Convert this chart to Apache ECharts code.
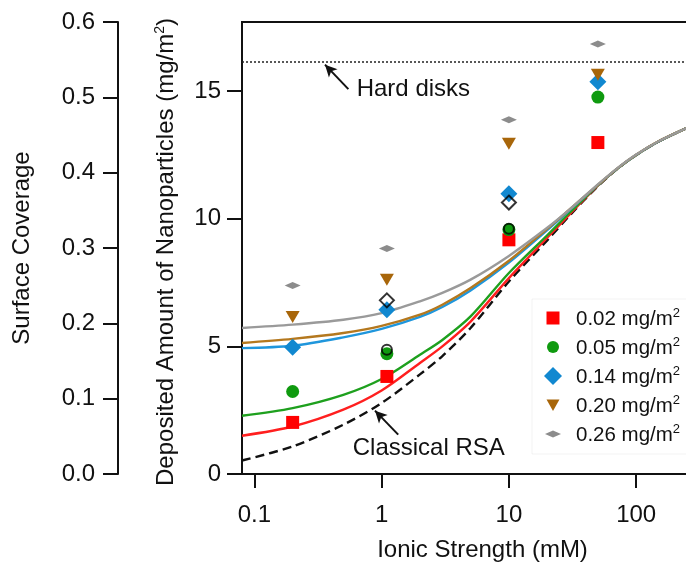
<!DOCTYPE html>
<html>
<head>
<meta charset="utf-8">
<script src="https://cdn.jsdelivr.net/npm/echarts@6/dist/echarts.min.js"></script>
<style>
html, body { margin: 0; padding: 0; background: #fff; }
#chart { width: 686px; height: 562px; }
</style>
</head>
<body>
<div id="chart"></div>
<script>
// measured points, ionic strength in mM
var ionic = [0.2, 1.1, 10, 50];
var dep002 = [2.02, 3.82, 9.17, 12.98];
var dep005 = [3.23, 4.71, 9.57, 14.76];
var dep014 = [4.96, 6.43, 10.97, 15.36];
var dep020 = [6.15, 7.61, 12.93, 15.63];
var dep026 = [7.38, 8.83, 13.87, 16.84];

// open black markers (no legend entry)
var openIonic = [1.1, 10];
var openDiamond = [6.80, 10.63];
var openCircle = [4.87, 9.60];

// model curves
var curveX = [0.08, 0.2, 0.5, 1, 2, 3, 5, 10, 20, 30, 50, 70, 100, 150, 250];
var fitRSA = [0.53, 1.08, 1.93, 2.78, 3.90, 4.62, 5.72, 7.54, 9.15, 10.12, 11.27, 11.92, 12.49, 13.02, 13.55];
var fit002 = [1.50, 1.86, 2.52, 3.27, 4.35, 5.00, 5.97, 7.67, 9.25, 10.17, 11.29, 11.93, 12.49, 13.02, 13.55];
var fit005 = [2.28, 2.58, 3.10, 3.72, 4.67, 5.25, 6.17, 7.87, 9.35, 10.23, 11.30, 11.93, 12.49, 13.02, 13.55];
var fit014 = [4.93, 5.02, 5.35, 5.68, 6.15, 6.54, 7.19, 8.28, 9.55, 10.33, 11.31, 11.93, 12.49, 13.02, 13.55];
var fit020 = [5.13, 5.29, 5.52, 5.80, 6.24, 6.63, 7.28, 8.35, 9.60, 10.36, 11.32, 11.94, 12.50, 13.03, 13.55];
var fit026 = [5.72, 5.85, 6.04, 6.30, 6.76, 7.09, 7.61, 8.54, 9.64, 10.36, 11.34, 11.95, 12.51, 13.03, 13.55];

var hardDisks = 16.15;
var legendNames = ['0.02', '0.05', '0.14', '0.20', '0.26'];
var xTicks = [0.1, 1, 10, 100];
var yTicks = [0, 5, 10, 15];

// annotation anchors (data units)
var hdArrow = [[0.548, 15.07], [0.359, 16.03]];
var hdText = [0.637, 15.05];
var rsaArrow = [[1.35, 1.54], [0.887, 2.48]];
var rsaText = [0.593, 1.02];

function pts(xs, ys) {
    return xs.map(function (x, i) { return [x, ys[i]]; });
}

var FONT = 'Liberation Sans, Arial, sans-serif';
var chart = echarts.init(document.getElementById('chart'));

function curve(name, ys, color, dashed) {
    return {
        name: name,
        type: 'line',
        data: pts(curveX, ys),
        smooth: 0.3,
        showSymbol: false,
        symbol: 'none',
        z: 2,
        lineStyle: { color: color, width: 2.4, type: dashed ? [9, 5] : 'solid' }
    };
}

function dots(name, ys, color, symbol, size) {
    return {
        name: name,
        type: 'scatter',
        data: pts(ionic, ys),
        symbol: symbol,
        symbolSize: size,
        z: 4,
        itemStyle: { color: color, opacity: 1 }
    };
}

var icons = {
    sq: 'path://M0,0M18,18M2.5,2.5h13v13h-13z',
    ci: 'path://M0,0M18,18M3,9a6,6 0 1,0 12,0a6,6 0 1,0 -12,0z',
    di: 'path://M0,0M18,18M9,0L18,9L9,18L0,9Z',
    tr: 'path://M0,0M18,18M2.5,3.5h13L9,15z',
    fl: 'path://M0,0M18,18M1,9L9,5.5L17,9L9,12.5Z'
};

var rsaSeries = curve('Classical RSA', fitRSA, '#111', true);
rsaSeries.markLine = {
    silent: true,
    symbol: ['none', 'arrow'],
    symbolSize: [9, 12],
    label: { show: false },
    lineStyle: { color: '#111', width: 2, type: 'solid' },
    data: [
        [{ coord: hdArrow[0] }, { coord: hdArrow[1] }],
        [{ coord: rsaArrow[0] }, { coord: rsaArrow[1] }]
    ]
};
rsaSeries.markPoint = {
    silent: true,
    symbol: 'circle',
    symbolSize: 0,
    label: { show: true, position: 'inside', align: 'left', verticalAlign: 'middle', fontSize: 24, fontFamily: FONT, color: '#111' },
    data: [
        { coord: hdText, value: 'Hard disks', label: { formatter: 'Hard disks' } },
        { coord: rsaText, value: 'Classical RSA', label: { formatter: 'Classical RSA' } }
    ]
};

var greySeries = curve('fit 0.26', fit026, '#9a9a9a');
greySeries.markLine = {
    silent: true,
    symbol: 'none',
    label: { show: false },
    lineStyle: { color: '#222', width: 1.6, type: [2, 2] },
    data: [{ yAxis: hardDisks }]
};

var option = {
    animation: false,
    backgroundColor: '#fff',
    textStyle: { fontFamily: FONT },
    grid: {
        left: 242, top: 22, right: -3, bottom: 88,
        show: true, borderColor: '#111', borderWidth: 2,
        outerBoundsMode: 'none'
    },
    legend: {
        orient: 'vertical',
        left: 532, top: 299,
        padding: [8, 10, 8, 12],
        backgroundColor: '#fff',
        borderColor: 'rgba(0,0,0,0.05)', borderWidth: 1,
        itemWidth: 18, itemHeight: 18, itemGap: 6,
        selectedMode: false,
        data: [
            { name: legendNames[0], icon: icons.sq },
            { name: legendNames[1], icon: icons.ci },
            { name: legendNames[2], icon: icons.di },
            { name: legendNames[3], icon: icons.tr },
            { name: legendNames[4], icon: icons.fl }
        ],
        formatter: function (n) { return '{a|' + n + ' mg/m}{s|2}'; },
        textStyle: {
            fontFamily: FONT, color: '#111',
            rich: {
                a: { fontSize: 20.5, lineHeight: 24, padding: [0, 0, 0, 9], verticalAlign: 'bottom', fontFamily: FONT, color: '#111' },
                s: { fontSize: 13, lineHeight: 24, padding: [0, 0, 10, 0], verticalAlign: 'bottom', fontFamily: FONT, color: '#111' }
            }
        }
    },
    xAxis: {
        type: 'log', logBase: 10, min: 0.08, max: 260,
        name: 'Ionic Strength (mM)',
        nameLocation: 'middle', nameGap: 64,
        nameTextStyle: { fontSize: 24, color: '#111', fontFamily: FONT, padding: [0, 0, 0, 34] },
        axisLine: { lineStyle: { color: '#111', width: 2 } },
        axisTick: { show: true, length: 14, customValues: xTicks, lineStyle: { color: '#111', width: 2 } },
        axisLabel: { customValues: xTicks, fontSize: 24, color: '#111', fontFamily: FONT, margin: 29,
            formatter: function (v) { return String(v); } },
        splitLine: { show: false },
        minorTick: { show: false }
    },
    yAxis: [
        {
            type: 'value', position: 'left', min: 0, max: 17.7,
            name: 'Deposited Amount of Nanoparticles (mg/m{s|2})',
            nameLocation: 'middle', nameGap: 62, nameMoveOverlap: false,
            nameTextStyle: { fontSize: 24, color: '#111', fontFamily: FONT, padding: [0, 8, 0, 0],
                rich: { s: { fontSize: 14, padding: [0, 0, 13, 0], verticalAlign: 'bottom', color: '#111', fontFamily: FONT } } },
            axisLine: { show: true, lineStyle: { color: '#111', width: 2 } },
            axisTick: { show: true, length: 15, customValues: yTicks, lineStyle: { color: '#111', width: 2 } },
            axisLabel: { customValues: yTicks, fontSize: 24, color: '#111', fontFamily: FONT, margin: 21 },
            splitLine: { show: false }
        },
        {
            type: 'value', position: 'left', offset: 124, min: 0, max: 0.6, interval: 0.1,
            name: 'Surface Coverage',
            nameLocation: 'middle', nameGap: 84, nameMoveOverlap: false,
            nameTextStyle: { fontSize: 24, color: '#111', fontFamily: FONT },
            axisLine: { show: true, lineStyle: { color: '#111', width: 2 } },
            axisTick: { show: true, length: 15, lineStyle: { color: '#111', width: 2 } },
            axisLabel: { fontSize: 24, color: '#111', fontFamily: FONT, margin: 23,
                formatter: function (v) { return v.toFixed(1); } },
            splitLine: { show: false }
        }
    ],
    series: [
        rsaSeries,
        curve('fit 0.02', fit002, '#ff1f1f'),
        curve('fit 0.05', fit005, '#1ea01e'),
        curve('fit 0.14', fit014, '#1f96dc'),
        curve('fit 0.20', fit020, '#b4781e'),
        greySeries,
        dots(legendNames[0], dep002, '#ff0000', 'rect', 13),
        dots(legendNames[1], dep005, '#0f9a0f', 'circle', 13),
        dots(legendNames[2], dep014, '#1188d0', 'diamond', 17),
        dots(legendNames[3], dep020, '#a8660a', 'path://M0,0h10L5,8.5z', [14, 12]),
        dots(legendNames[4], dep026, '#8c8c8c', 'diamond', [16, 7]),
        {
            name: 'open diamond', type: 'scatter', data: pts(openIonic, openDiamond),
            symbol: 'diamond', symbolSize: 14, z: 5,
            itemStyle: { color: 'rgba(255,255,255,0)', borderColor: '#000', borderWidth: 2 }
        },
        {
            name: 'open circle', type: 'scatter', data: pts(openIonic, openCircle),
            symbol: 'circle', symbolSize: 10, z: 5,
            itemStyle: { color: 'rgba(255,255,255,0)', borderColor: '#000', borderWidth: 2 }
        }
    ]
};
chart.setOption(option);
</script>
</body>
</html>
